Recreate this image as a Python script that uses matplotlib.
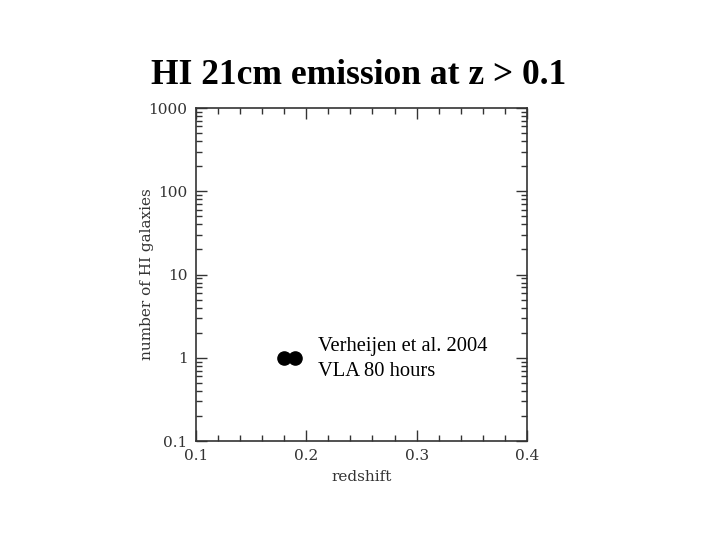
import numpy as np
import matplotlib
matplotlib.use("Agg")
import matplotlib.pyplot as plt
from matplotlib.ticker import FixedLocator, LogLocator, NullFormatter

# data
redshift = [0.18, 0.19]
n_galaxies = [1, 1]
x_ticks = [0.1, 0.2, 0.3, 0.4]
x_ticklabels = ["0.1", "0.2", "0.3", "0.4"]
y_ticks = [0.1, 1, 10, 100, 1000]
y_ticklabels = ["0.1", "1", "10", "100", "1000"]

AX_COL = "#333333"
TICK_FONT = "DejaVu Serif"

fig = plt.figure(figsize=(7.2, 5.4), dpi=100)
ax = fig.add_axes([0.272, 0.1833, 0.46, 0.6167])

ax.scatter(redshift, n_galaxies, s=90, color="black", zorder=3)

ax.set_xlim(0.1, 0.4)
ax.set_yscale("log")
ax.set_ylim(0.1, 1000)

ax.set_xticks(x_ticks)
ax.set_xticklabels(x_ticklabels)
ax.xaxis.set_minor_locator(FixedLocator(np.arange(0.1, 0.4001, 0.02)))
ax.set_yticks(y_ticks)
ax.set_yticklabels(y_ticklabels)
ax.yaxis.set_minor_locator(LogLocator(base=10, subs=np.arange(2, 10), numticks=20))
ax.yaxis.set_minor_formatter(NullFormatter())

ax.tick_params(which="both", direction="in", top=True, right=True,
               color=AX_COL, width=1.0, labelcolor=AX_COL)
ax.tick_params(which="major", length=8, labelsize=11, pad=6)
ax.tick_params(which="minor", length=4)
for lab in ax.get_xticklabels() + ax.get_yticklabels():
    lab.set_family(TICK_FONT)
for sp in ax.spines.values():
    sp.set_color(AX_COL)
    sp.set_linewidth(1.2)

ax.set_xlabel("redshift", family=TICK_FONT, fontsize=11, color=AX_COL, labelpad=5)
ax.set_ylabel("number of HI galaxies", family=TICK_FONT, fontsize=11,
              color=AX_COL, labelpad=-4)

ax.text(0.2106, 0.97, "Verheijen et al. 2004\nVLA 80 hours",
        family="Liberation Serif", fontsize=14.8, va="center", ha="left",
        linespacing=1.45)

fig.text(0.498, 0.86, "HI 21cm emission at z > 0.1", family="Liberation Serif",
         fontweight="bold", fontsize=25.5, ha="center", va="center")

fig.savefig("out.png", dpi=100)
